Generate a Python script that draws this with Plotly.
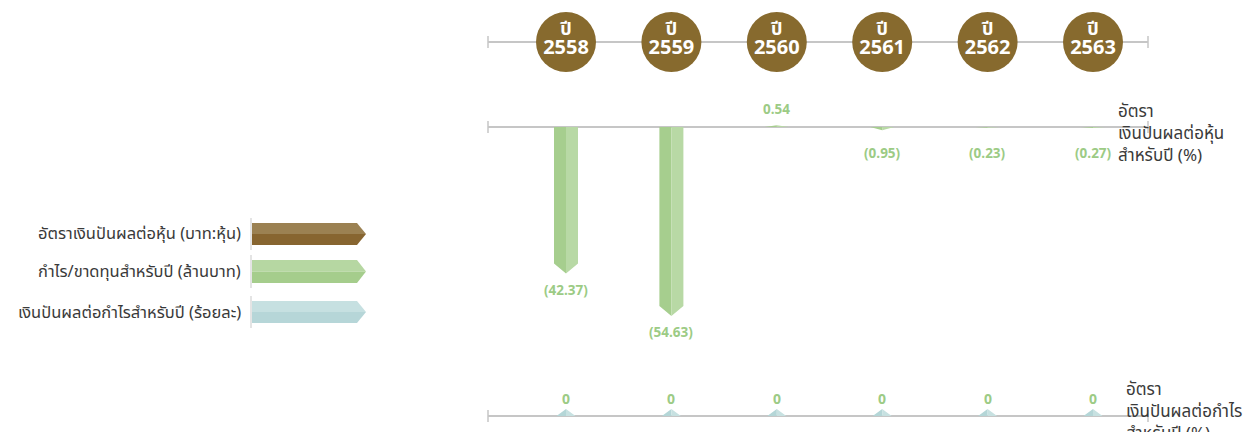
import plotly.graph_objects as go

# ---------------- data ----------------
years = ["2558", "2559", "2560", "2561", "2562", "2563"]
year_prefix = "ปี"
profit_values = [-42.37, -54.63, 0.54, -0.95, -0.23, -0.27]
profit_labels = ["(42.37)", "(54.63)", "0.54", "(0.95)", "(0.23)", "(0.27)"]
payout_values = [0, 0, 0, 0, 0, 0]
payout_labels = ["0", "0", "0", "0", "0", "0"]
legend_labels = [
    "อัตราเงินปันผลต่อหุ้น (บาท:หุ้น)",
    "กำไร/ขาดทุนสำหรับปี (ล้านบาท)",
    "เงินปันผลต่อกำไรสำหรับปี (ร้อยละ)",
]
mid_axis_title = ["อัตรา", "เงินปันผลต่อหุ้น", "สำหรับปี (%)"]
bot_axis_title = ["อัตรา", "เงินปันผลต่อกำไร", "สำหรับปี (%)"]

# ---------------- geometry / style ----------------
W, H = 1255, 432
X0_PX, STEP_PX = 566, 105.4
AX_L, AX_R = 488, 1148
TOP_BASE, MID_BASE, BOT_BASE = 42, 127, 416
MID_SCALE = 3.46  # px per unit

BROWN = "#876A2E"
GREEN_D, GREEN_L = "#A6CE8E", "#B8D9A5"
LABEL_GREEN = "#9CCB85"
TEAL_D, TEAL_L = "#B4D6D7", "#C7E1E1"
AXIS_C = "#C6C6C6"
TEXT_C = "#3A3A3A"
THAI_FONT = "Noto Sans Thai, Kanit, Sarabun, Open Sans, sans-serif"


def px_x(px):
    return px / W


def py_y(py):
    return 1 - py / H


n = len(years)
idx = list(range(n))

fig = go.Figure()

# ---- middle bars (profit/loss) ----
hw = 12 / STEP_PX
tip_units = 10 / MID_SCALE
lx, ly, rx, ry = [], [], [], []
for i, v in zip(idx, profit_values):
    s = 1 if v >= 0 else -1
    L = abs(v)
    tip = min(tip_units, L)
    shaft = L - tip
    lx += [i - hw, i, i, i - hw, i - hw, None]
    ly += [0, 0, s * L, s * shaft, 0, None]
    rx += [i, i + hw, i + hw, i, i, None]
    ry += [0, 0, s * shaft, s * L, 0, None]
fig.add_trace(go.Scatter(x=lx, y=ly, fill="toself", fillcolor=GREEN_D, mode="lines",
                         line=dict(width=0, color=GREEN_D), hoverinfo="skip", yaxis="y"))
fig.add_trace(go.Scatter(x=rx, y=ry, fill="toself", fillcolor=GREEN_L, mode="lines",
                         line=dict(width=0, color=GREEN_L), hoverinfo="skip", yaxis="y"))

annotations = []
for i, v, lab in zip(idx, profit_values, profit_labels):
    L = max(abs(v), tip_units)
    if v < 0:
        annotations.append(dict(x=i, y=-L, xref="x", yref="y", text="<b>" + lab + "</b>",
                                showarrow=False, yanchor="top", yshift=-5,
                                font=dict(size=13.5, color=LABEL_GREEN, family="Open Sans")))
    else:
        annotations.append(dict(x=i, y=L, xref="x", yref="y", text="<b>" + lab + "</b>",
                                showarrow=False, yanchor="bottom", yshift=-3,
                                font=dict(size=13.5, color=LABEL_GREEN, family="Open Sans")))

# ---- bottom triangles (payout) ----
thw = 9.5 / STEP_PX
t_h = 7
blx, bly, brx, bry = [], [], [], []
for i, v in zip(idx, payout_values):
    top = v + t_h
    blx += [i - thw, i, i, i - thw, None]
    bly += [0, 0, top, 0, None]
    brx += [i, i + thw, i, i, None]
    bry += [0, 0, top, 0, None]
fig.add_trace(go.Scatter(x=blx, y=bly, fill="toself", fillcolor=TEAL_D, mode="lines",
                         line=dict(width=0, color=TEAL_D), hoverinfo="skip", yaxis="y3"))
fig.add_trace(go.Scatter(x=brx, y=bry, fill="toself", fillcolor=TEAL_L, mode="lines",
                         line=dict(width=0, color=TEAL_L), hoverinfo="skip", yaxis="y3"))
for i, v, lab in zip(idx, payout_values, payout_labels):
    annotations.append(dict(x=i, y=v + t_h, xref="x", yref="y3", text="<b>" + lab + "</b>",
                            showarrow=False, yanchor="bottom", yshift=-1,
                            font=dict(size=14, color=LABEL_GREEN, family="Open Sans")))

# ---- top circles (years) ----
fig.add_trace(go.Scatter(x=idx, y=[0] * n, mode="markers",
                         marker=dict(size=60, color=BROWN, line=dict(width=0)),
                         hoverinfo="skip", yaxis="y2"))
fig.add_trace(go.Scatter(x=idx, y=[12] * n, mode="text", text=["<b>" + year_prefix + "</b>"] * n,
                         textposition="middle center",
                         textfont=dict(size=18, color="white", family=THAI_FONT),
                         hoverinfo="skip", yaxis="y2"))
fig.add_trace(go.Scatter(x=idx, y=[-7] * n, mode="text", text=["<b>" + y + "</b>" for y in years],
                         textposition="middle center",
                         textfont=dict(size=20, color="white", family="Open Sans"),
                         hoverinfo="skip", yaxis="y2"))

# ---- axis lines ----
shapes = []
for base in (TOP_BASE, MID_BASE, BOT_BASE):
    shapes.append(dict(type="line", xref="paper", yref="paper", x0=px_x(AX_L), x1=px_x(AX_R),
                       y0=py_y(base), y1=py_y(base), line=dict(color=AXIS_C, width=2), layer="below"))
    for ex in (AX_L, AX_R):
        shapes.append(dict(type="line", xref="paper", yref="paper", x0=px_x(ex), x1=px_x(ex),
                           y0=py_y(base - 6), y1=py_y(base + 6), line=dict(color=AXIS_C, width=1.5),
                           layer="below"))

# ---- left legend arrows ----
leg_rows = [(223, 245, "#9B8152", "#876530"),
            (260, 283, "#B6D7A2", "#A5CD8C"),
            (301, 323, "#C6E0E1", "#B6D6D8")]
for (t, b, ctop, cbot), lab in zip(leg_rows, legend_labels):
    m = (t + b) / 2
    xl, xp, xr = 252, 357, 366
    p_top = "M {},{} L {},{} L {},{} L {},{} Z".format(
        px_x(xl), py_y(t), px_x(xp), py_y(t), px_x(xr), py_y(m), px_x(xl), py_y(m))
    p_bot = "M {},{} L {},{} L {},{} L {},{} Z".format(
        px_x(xl), py_y(m), px_x(xr), py_y(m), px_x(xp), py_y(b), px_x(xl), py_y(b))
    shapes.append(dict(type="path", xref="paper", yref="paper", path=p_top,
                       fillcolor=ctop, line=dict(width=0)))
    shapes.append(dict(type="path", xref="paper", yref="paper", path=p_bot,
                       fillcolor=cbot, line=dict(width=0)))
    shapes.append(dict(type="line", xref="paper", yref="paper", x0=px_x(251), x1=px_x(251),
                       y0=py_y(t - 5), y1=py_y(b + 5), line=dict(color="#E4E4E4", width=2)))
    annotations.append(dict(x=px_x(243), y=py_y(m), xref="paper", yref="paper", text=lab,
                            showarrow=False, xanchor="right", yanchor="middle",
                            font=dict(size=16.5, color=TEXT_C, family=THAI_FONT)))

# ---- right-side axis titles ----
annotations.append(dict(x=px_x(1116), y=py_y(97), xref="paper", yref="paper",
                        text="<br>".join(mid_axis_title), showarrow=False, align="left",
                        xanchor="left", yanchor="top",
                        font=dict(size=17, color=TEXT_C, family=THAI_FONT)))
annotations.append(dict(x=px_x(1124), y=py_y(375), xref="paper", yref="paper",
                        text="<br>".join(bot_axis_title), showarrow=False, align="left",
                        xanchor="left", yanchor="top",
                        font=dict(size=17, color=TEXT_C, family=THAI_FONT)))

fig.update_layout(
    width=W, height=H,
    margin=dict(l=0, r=0, t=0, b=0),
    paper_bgcolor="white", plot_bgcolor="white",
    showlegend=False,
    hovermode=False,
    xaxis=dict(range=[-X0_PX / STEP_PX, (W - X0_PX) / STEP_PX], domain=[0, 1], visible=False,
               fixedrange=True),
    yaxis=dict(range=[-(H - MID_BASE) / MID_SCALE, MID_BASE / MID_SCALE], domain=[0, 1],
               visible=False, fixedrange=True),
    yaxis2=dict(range=[-(H - TOP_BASE), TOP_BASE], overlaying="y", visible=False, fixedrange=True),
    yaxis3=dict(range=[-(H - BOT_BASE), BOT_BASE], overlaying="y", visible=False, fixedrange=True),
    shapes=shapes,
    annotations=annotations,
)

fig.write_html("out.html", config={"displayModeBar": False, "staticPlot": True},
               post_script="document.body.style.margin='0';document.body.style.overflow='hidden';")
